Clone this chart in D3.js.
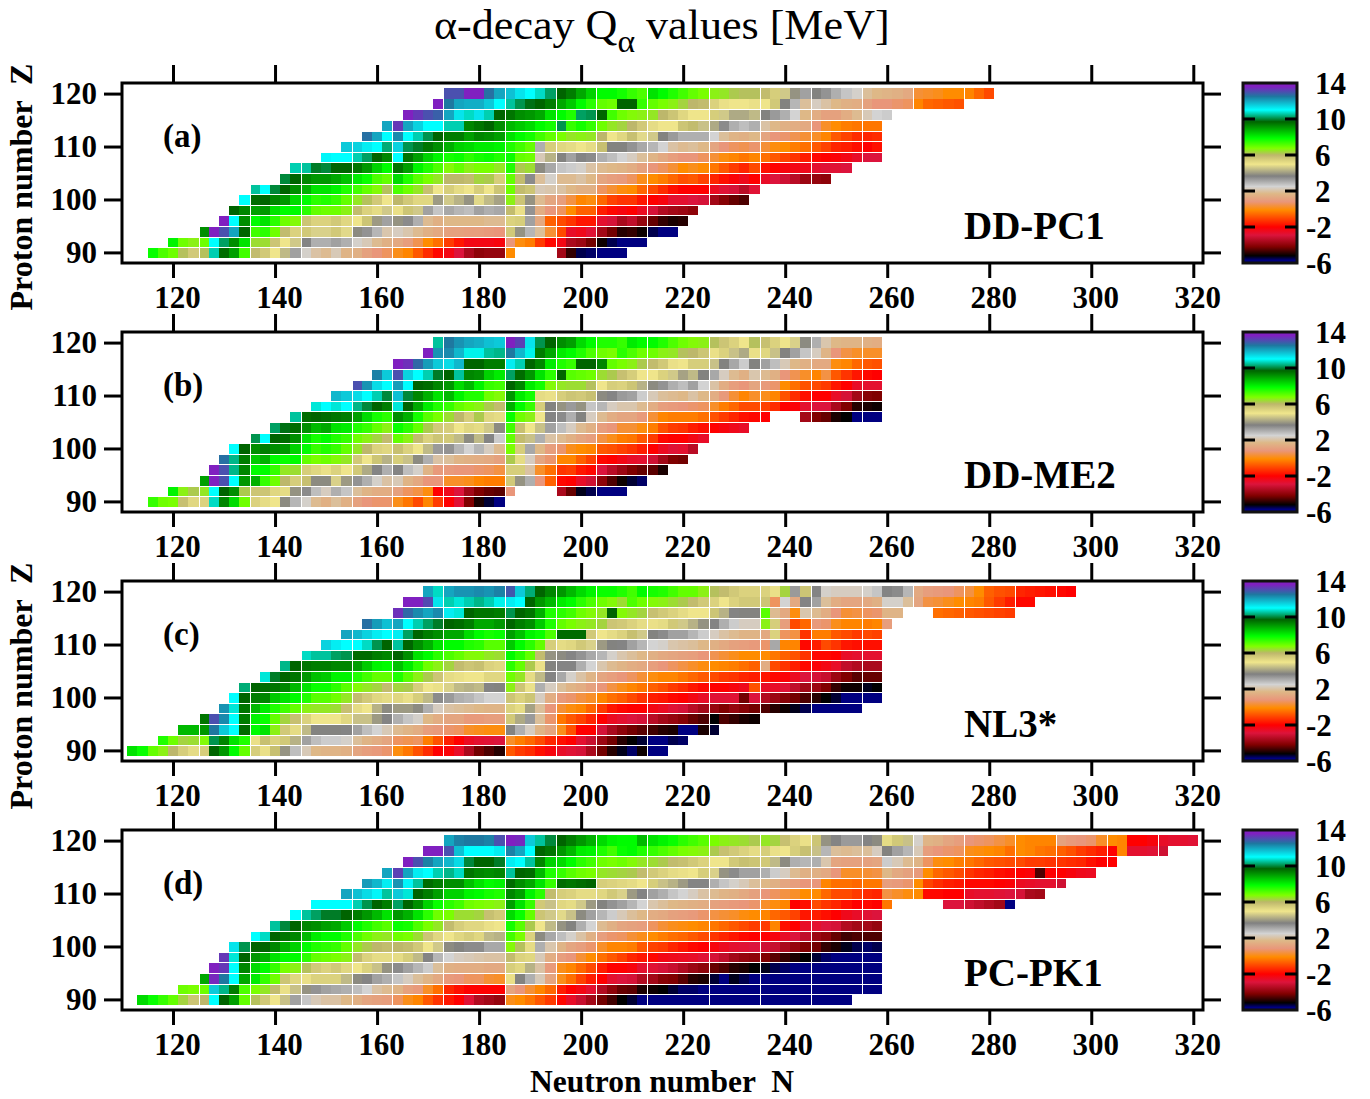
<!DOCTYPE html>
<html>
<head>
<meta charset="utf-8">
<script src="https://cdn.jsdelivr.net/npm/d3@7"></script>
<style>
body{margin:0;background:#fff}
text{font-family:"Liberation Serif",serif;fill:#000}
.lab{font-weight:bold;font-size:31px}
</style>
</head>
<body>
<svg width="1370" height="1099"></svg>
<script>
//Rows run top to bottom, Z=120 down to Z=90, each row is [first N, Q values for N, N+2, ...], null = no cell
const zValues = [120,118,116,114,112,110,108,106,104,102,100,98,96,94,92,90];
const nTicks = [120,140,160,180,200,220,240,260,280,300,320];
const zTicks = [90,100,110,120];
const barTicks = [14,10,6,2,-2,-6];
const panelNames = ['DD-PC1','DD-ME2','NL3*','PC-PK1'];
const panelTags = ['(a)','(b)','(c)','(d)'];

const rowsA = [
[174,[13,13,13.8,13.8,12.6,12,11.7,11.3,11,10.7,10.2,9.7,9.4,8.9,8.4,7.9,7.9,7.7,7.4,7.2,8.2,7.9,7.6,7.3,7,6.8,6.6,6.5,6.2,6.1,6.1,5.9,5.5,4.6,3.9,3.2,3.7,3.4,3,2.7,2.4,1.9,1.7,1.6,1.5,1.3,.3,.2,.1,-.1,-.1,-.2,-.6,-1]],
[172,[13.9,12.5,12,11.9,11.9,11.6,11,10.5,10.1,9.8,9.7,9.4,8.9,8.5,7.9,7.5,7,6.9,9.7,9.7,7.4,7,6.8,6.6,6.3,6,5.9,5.4,5.1,5,5,5.1,5,5.6,3.7,2.9,1.9,2.3,2,1.7,1.5,1.4,1.1,.8,.8,.7,.6,-.2,-.6,-.7,-.8,-.9]],
[166,[13.9,13.3,13,12.8,12,11.3,10.7,11.3,10.6,9.7,9.5,9.2,9.1,8.9,8.2,7.9,7.6,10.2,10.1,9.7,7.3,6.9,6.7,6.6,6.5,6,5.7,5.3,5,5,5.5,4.6,4.2,4.2,4.4,3.7,3.3,3,2.5,1.7,1.4,1.1,1.1,1.4,1.8,2.2,2.5,2.6]],
[162,[12,13.3,12,11.5,11,11,10.6,10.6,9.3,9.5,9.7,9.2,8.7,8.5,8.3,7.9,7.7,10.1,7.4,7.7,7.4,6.9,6.5,6.3,6,5.6,5.2,5,5,5.7,5.9,4.5,4.2,3.5,3,2.8,3,2,1.7,1.5,1.4,1.3,.8,.2,-.1,-.3,-.4,-.4,-.4]],
[158,[12.6,12,11,12.3,11,10.6,10.1,9.7,9.4,9.4,9,9.3,9.2,9,8.2,7.9,7.7,7.3,7,6.8,6.5,6.6,6.5,6,5,5.3,5.8,4.8,4.6,3.7,3.3,3,3,3,2.5,1.9,1.6,1.5,1.7,1.2,.8,.7,.5,.3,.2,-.2,-.8,-1.1,-1.4,-1.5,-1.4]],
[154,[11.6,11.5,11.2,11,10.3,11.5,10.1,9.9,9.5,9.2,8.8,8.4,8.3,8.1,8.1,8,7.6,7.3,7,3,5.5,5.3,5.2,5,5.2,5.8,3.7,3.7,3.4,3.1,2.9,2.5,2,1.8,1.9,1.7,1.2,.8,.6,.5,.7,.3,0,-.1,-.3,-.5,-.8,-1.1,-1.5,-1.6,-1.8,-2,-1.8]],
[150,[11.1,11,11,10.6,10.2,9.7,9.3,11,9.5,9,8.4,8,7.7,7.8,7.5,7.7,7.8,7.6,7.8,7,6.9,2.2,4.3,3.7,3.2,3.6,3.5,3,2.8,2.5,2.3,1.9,1.6,1.3,1,.8,.8,.6,.3,0,-.2,-.4,-.2,-.5,-.8,-1.1,-1.3,-1.6,-1.9,-2,-2.1,-2.3,-2.6,-2.9,-2.9]],
[144,[10.6,10.5,9.9,10,9.7,9.7,9.5,9.1,8.4,7.9,9.5,9,8,7.6,7.2,6.7,7,6.6,6.8,6.8,6.5,7.6,6.2,6.4,3.8,3.1,2.7,2.6,2.4,2,1.8,1.7,1.6,1.4,1.1,.8,.6,.3,-.1,.1,-.1,-.4,-.8,-1.2,-1.5,-1,-1.8,-2,-2.2,-2.3,-2.4,-2.7,-2.8,-2.8,-2.9]],
[142,[10,9.7,9.3,9.1,9.1,8.9,8.6,8.1,7.8,7.2,7,8.3,7.6,7.1,6.8,6.5,6,6,5.9,6.3,6.2,5.5,7,5.9,3.5,1.9,2.4,1.8,1.8,2,1.7,1.2,1,.9,.6,.1,-.1,-.3,-.6,-.9,-.8,-1.1,-1.5,-1.8,-2.1,-2.4,-2,-2.6,-2.9,-3.1,-3.4,-3.8,-3.9,-4]],
[136,[10.5,11,10,9.7,9.2,8.8,8.2,8.2,8,7.6,7.3,7,6.7,6.1,7.2,6.9,6.5,5.8,5,5.5,5.2,5,5.5,5,5.7,6.9,5.9,5.7,2.2,2.1,2,1.7,1.5,1.5,.6,.3,0,-.1,-.6,-1,-1.4,-1.8,-2,-2,-2,-2.5,-2.8,-3,-3.4,-2.8]],
[134,[11,9.6,9.7,9.3,9.1,8.3,7.9,7.5,7.6,7.4,7,6.5,6.1,5.6,5,6,5.6,5.3,5.3,4,4.6,4.3,3.9,4.8,4.4,4.1,6.6,5.7,3.9,1.8,1.2,1,.4,-.2,0,-.6,-1.1,-1.3,-1.3,-1.7,-2,-2.2,-2.7,-2.7,-2.9,-3,-3.7,-4.1,-4.4,-4.6]],
[132,[9.7,9.3,9,9.1,8.2,7.9,7.9,7.5,7,6.9,6.9,6.6,5.9,5.4,5.2,4.6,5.1,5.7,4.6,3.2,2.7,3.1,2.9,2.8,3.2,3,3.1,5.9,5.1,3.4,1.4,.8,.6,-.1,-.7,-.7,-1.6,-1.9,-2.2,-2,-2.5,-3,-3.5,-3.7,-3.8,-4]],
[130,[13.7,11,9.2,7.9,8.2,7.5,6.9,6.7,5.7,5.4,5.4,5.6,5.3,5,5.7,4,3.2,3.9,3.5,3,1.8,1.5,1.7,1.7,1.7,1.7,1.8,1.8,5.4,5.5,3.2,1.3,-.7,-1,-1.3,-1.7,-1.7,-2.7,-3,-3.6,-3.3,-3.9,-4.4,-4.8,-5,-4.9]],
[126,[9.2,13.8,13,12,9.7,7.3,7.5,6.9,5.9,5.4,5.6,4.7,4.7,5.6,4.8,3.8,3.4,2.9,2.1,2.3,2.1,1.8,1.5,1.3,1.1,1.1,1,1,.9,.8,5.6,3.9,2.9,1.9,.3,-1,-2.6,-2.4,-2.8,-3.7,-4.3,-4.9,-4.8,-5.1,-5.5,-5.8,-5.8]],
[120,[8,6.9,6.6,6.9,11,10.2,9.2,8.2,6.4,6.4,5.7,5,4.6,3.6,3,3,3.2,3,2.4,2.2,1.8,1.5,1.3,1,.5,-.1,-.5,-1.2,-1.7,-2.3,-2.3,-2.3,-2.2,.8,0,-.3,-1.2,-1.9,-2.3,-3.6,-3.8,-4.3,-5.1,-5.5,-5.7,-5.7,-5.8]],
[116,[7.8,7.2,6.9,6.1,5.6,6.1,10.6,9.6,9,7.3,5.9,5.6,5,4.4,3.2,2.4,2,1.8,2.2,1.6,1.5,1.1,.8,.6,.1,-.2,-.8,-1.4,-1.9,-2.3,-2.9,-3.6,-4,-3.9,-3.9,-.1,null,null,null,null,-3.7,-4.8,-5.5,-5.6,-6,-6,-6]]
];

const rowsB = [
[172,[10.5,12.5,12.2,12,11.9,11.7,11.6,13.9,13.2,11.3,10.1,9.7,9.2,9,8.3,7.9,7.6,7.6,7.4,8.1,7.9,7.9,7.6,7.2,6.9,6.7,6.6,6.1,5.7,5.4,5,6.1,5.8,5.4,5,4.7,3.8,3,2.1,1.7,1.6,1.6,1.5,1.4]],
[170,[13.9,12.2,12.3,11.8,10.9,10.9,10.5,10.4,12.5,11.8,10.9,9.4,8.9,8.1,7.9,7.6,7.2,6.9,6.8,7.5,7.2,6.9,6.9,6.6,6.5,6.1,6,5.7,5.1,5.4,4.5,4.2,5.1,5.3,4.5,3.7,3.2,2.7,2.3,1.6,.8,.4,.2,.2,.2]],
[164,[14,13.4,12.7,12.1,11.6,11.4,11.8,9.7,9.7,9.4,9.4,11.2,10.6,9.7,9.3,8.1,7.6,7.4,9.7,9.7,9.3,7,6.8,6.6,6.2,5.9,5.6,5.1,5,5.5,5.5,4.5,3.7,3.1,2.6,3.7,3.2,2.8,2.2,1.7,1.5,1.3,1.3,0,-.2,-.6,-.8,-.9]],
[160,[12.4,11.6,13,11.5,11,10.6,9.9,9.7,10.5,9.3,9.2,8.4,8.1,10.2,9.6,9.1,8.2,7.5,9.7,7.1,7,6.9,6.4,6.2,5.8,5.5,5,5,5.4,4.6,4.1,4.4,3.7,3.1,2.3,1.8,1.5,2.1,1.8,1.5,.8,.5,.2,-.2,.4,-.8,-1.3,-1.7,-1.9,-2]],
[156,[13,12.2,11.4,11,12.1,11,9.7,9.6,9.3,9.1,8.3,8.7,8,7.4,7.3,9.7,9.3,8.1,7.7,6.7,6.5,6.4,6.4,6.1,5,5.5,5.4,5.7,4.3,3.8,3.4,3,2.8,3.2,2.5,2,1.4,1,.8,1.2,.9,.7,-.1,-.5,-.9,-1,-1.2,-1.7,-2,-2.6,-2.7,-2.7]],
[152,[11.8,11.6,11.4,11,10.6,10,11.7,10,9.3,8.8,8.2,8.7,8,7.6,7.6,6.9,6.7,9.1,8.1,7.7,5.2,5.1,5.5,5.7,5.6,5.8,3.8,3.6,3.3,3.2,2.6,2.2,1.9,1.8,1.7,2,1.7,1.4,.9,.3,-.2,.2,.1,-.2,-.9,-1.4,-1.8,-2,-2,-2.6,-3,-3.7,-4.1,-4.2]],
[148,[10.8,11,10.8,11,10.4,10,9.7,9.4,10.8,9.7,8.9,8.1,7.6,7.4,7,6.8,6.6,6.2,5.9,8.8,7.9,7.4,5.5,3.7,3.9,3.3,3.9,2.7,2.9,2.3,2.1,2.1,1.8,1.4,1,.9,.8,.7,.6,.2,-.3,-.6,-1,-1,-1.1,-1.4,-2,-2.1,-2.7,-2.9,-2.9,-3.6,-4.2,-4.9,-5,-5.1]],
[144,[10.5,9.6,9.7,9.6,9.5,9.4,9,8.3,7.7,7.5,9.2,8.8,7.7,7.1,6.8,6.4,6,5.5,6.2,5.3,5.2,7.8,6.9,6.6,5,3.6,3.5,3,3.7,2.3,1.8,1.4,1.2,1.2,.9,.3,-.2,-.3,-.3,-.3,-.5,-.9,-1.2,-1.5,-1.8,-1.9,-2,null,null,null,-3.7,-4.2,-4.4,-5,-5.2,-5.7,-5.7,-5.9]],
[140,[10.2,9.8,9.6,9.2,8.7,8.9,8.2,8.1,7.6,7.4,7,6.6,7.8,7.5,7,6.2,5.6,5.5,5,5.3,5.2,4.6,3.8,7.3,5.8,5,4.5,3.2,2.8,2.3,1.8,1.5,1,.8,.3,.3,0,-.3,-.9,-1.2,-1.3,-1.6,-1.8,-2,-2.2,-2.4,-2.6]],
[136,[10.1,11,9.7,9.6,9.2,8.2,7.7,7.9,7.6,7.4,6.9,6.6,6.3,5.9,7,6.6,5.9,5.4,5.7,5.6,4.4,3.8,4.4,3.6,2.6,7,5.9,4.5,3,2,1.8,1.5,1.2,1,.4,.1,-.3,-.4,-.8,-1.2,-1.9,-2,-2,-2.3,-2.6]],
[132,[11,9.7,9.2,9.4,9.2,9.1,8.4,7.9,7.4,7.6,7.4,7,6.5,6,5.4,5.3,5.8,5.4,5,4.4,3.3,3.4,2.9,2.5,2.9,2.3,1.8,6.8,5.5,3.1,1.7,1,.7,.1,-.1,-.2,-.8,-.9,-1.1,-1.3,-1.6,-2,-2.5,-2.8,-2.7,-3.4]],
[130,[12.6,10.4,9.4,8.5,8.8,7.9,7.8,7.9,7,6.8,6.9,6.7,6.5,5.6,5,5.7,4.3,5.5,4.5,3.8,3,2,1.9,1.6,1.5,1.4,1.3,1.1,6.2,5.2,2.3,1.2,.7,-.2,-.2,-.7,-1.1,-1.9,-2,-2.3,-2.6,-2.7,-3.1,-3.7,-4.2,-4.3]],
[128,[13.9,13,10.4,9.3,7.9,7.9,7.4,6.5,6.4,5.5,5.3,5.1,5.4,5,5.6,4.2,3.6,3,3.6,2.8,2.4,1.6,.9,.9,.8,.8,.7,.6,.4,5.5,5.5,2,.2,-.5,-1.3,-1.2,-1.7,-1.9,-2.9,-3.4,-3.8,-4.2,-4.4,-4.5,-5]],
[126,[9,13.9,13,11,9.1,8.8,7.4,6.9,6,5.5,5.8,3.8,3.8,4.7,4,3.4,3,2.4,2,2.2,1.6,1.3,.8,.8,.2,.2,.1,-.2,-.3,-.3,5.6,3.9,3,.8,-.7,-1.9,-2,-2.6,-3.1,-4,-4.6,-5.1,-5.4,-5.6]],
[120,[8,6.6,6.2,6.5,11,9.7,9.2,6.2,5.7,5.7,5.3,5.2,3.9,3.5,2.8,2.3,3,2.7,1.9,1.6,1.4,1.4,1.1,.6,.4,0,-2,-2.4,-2.9,-3.7,-4.2,-4.4,-4.5,.8,null,null,null,null,-3.6,-4.4,-5.3,-5.5,-5.8,-5.8,-5.9]],
[116,[7.4,6.9,6.8,5.8,5.3,5.4,10.7,9.3,8.3,6.9,5.4,5.2,5,3.8,2.9,2.4,1.8,1.5,1.9,1.5,1.1,.8,.7,.7,.1,-.4,-1,-.2,-1.2,-2,-2.8,-4.2,-5,-5.4,-5.7]]
];

const rowsC = [
[170,[12,10.7,12,12.2,12.2,12.3,12.2,12.4,12.9,11.6,10.3,9.7,9.3,9.1,8.7,8.3,8,7.8,7.8,7.6,7.3,7.9,7.7,7.6,7.3,7,7,6.6,6.1,5.9,5.6,5.4,5.4,5.4,5.1,6.3,3.3,5.7,3.6,2.4,2.3,2.3,2.3,2.4,2.7,3.6,3.5,2.9,1.3,1,.9,.8,.6,.4,-.1,-.7,-.9,-1,-1.5,-1.6,-1.7,-1.8,-1.9,-2]],
[166,[13.9,13.8,13.1,11.3,10.6,10.8,10.6,10.4,10.6,10.9,11.2,11,9.7,9.1,8.7,8.1,7.9,7.5,7.2,6.9,6.7,6.4,7.2,6.9,6.7,6.6,6.4,6.2,5.9,5.6,5.4,5,5.4,5.6,5.6,5.7,.6,2.5,1.3,3.6,3.2,1.9,1.4,1.2,1.2,1.3,1.5,2.4,2.4,1.9,1.2,.4,.3,.1,-.1,-.2,-.3,-.8,-1.2,-1.6,-1.9,-1.9]],
[164,[13.4,12.7,12.3,12,12.3,11.2,10.8,9.7,9.5,9.5,9.4,10.1,9.7,9.5,8.8,7.6,7.5,7.3,6.9,6.7,6.5,9.7,6.7,6.5,6.3,5.8,5.6,5.4,5.2,5,5,5.7,4.3,3.6,3.7,3.7,7.1,1.8,1.3,0,2.1,1.8,1.4,.8,.3,.4,.6,.7,1.6,1.6,null,null,null,-.5,-.6,-.7,-.8,-.9,-1,-1.1,-1.2]],
[158,[12.6,12.1,11.7,12,11,10.6,10.2,9.9,9.7,9.6,9.4,8.9,8.9,9.1,9.7,9.4,9.2,8.5,7.6,7,6.8,6.6,6.5,6.3,5.7,5.6,5.4,5.2,5.1,5.2,5.6,4.6,4.3,3.9,3.6,3,2.6,2.3,2.3,6.6,5.5,1,-1,-.6,.9,.7,.1,-.2,-.2,-.3,-.2,1]],
[154,[12,11.8,11.5,11.2,11,11.2,10.2,9.7,9.4,9.2,8.9,8.9,8.3,7.9,7.7,7.8,9,8.6,8,7.8,7.2,9.6,9.6,9.6,5.6,5,5.2,5.4,5.8,4.6,3.7,3.5,3.2,3.2,2.9,2.6,2.3,2,1.8,1.6,1.6,1.3,5.4,.6,.4,-1.3,-.3,-.3,-.8,-1,-1.2,-1,-1.1]],
[150,[11.5,11.2,11,11,10.7,10.1,9.7,10.5,9.7,9.2,8.8,8.2,7.9,7.9,7.6,7.5,7.1,7.1,8.5,7.9,7.5,7,5.5,5.2,5.3,5.6,4.7,4,3.7,3.6,3.2,2.9,2.5,2.4,2.1,2,1.9,1.7,1.5,1.3,1.1,1,.9,.7,3.1,-.2,-.2,-1.9,-1.6,-1,-1.3,-1.7,-1.8,-1.8,-1.8]],
[146,[10.7,10.5,10.5,10.2,10.1,9.6,9.6,9.4,9.3,9.7,9.2,8.2,7.9,7.5,7.2,7,6.7,6.7,6.5,6.4,7.9,7.5,7,5.9,3.9,3.8,3.6,3.4,3.1,2.9,2.4,2.1,1.9,1.7,1.5,1.3,1.2,1.1,1,.8,.5,.3,.1,-.1,-.1,-.1,-.4,-.7,-.9,-1.3,-1.9,-1.9,-2,-2.6,-2.7,-2.7,-2.7]],
[142,[10.4,9.7,9.5,9.4,9.4,9.3,9.3,9,8.5,8,7.9,8.6,8.1,7.5,6.9,6.6,6.3,5.9,5.7,5.8,5.4,5.3,7.5,7,6.2,5.1,3.7,3.6,3.6,3,2.5,2.1,1.8,1.6,1.4,1.3,1,.8,.6,.4,.2,0,-.1,-.2,-.3,-.5,-.7,1.4,-1,-1.3,-1.6,-1.9,-2.1,-2.3,-2.6,-3.3,-3.5,-3.6,-3.6]],
[138,[10.8,9.9,9.7,9.5,9.1,8.6,8.5,8,8,7.6,7.3,7,7,7.6,7.1,6.6,6.2,5.7,5.2,5.1,5,5,5.3,5.3,6.9,6.5,5.2,4.4,3.6,3.1,2.4,2,1.6,1.2,1,.8,.6,.3,0,-.2,-.2,-.4,-.6,-.8,-1,-1.2,-1.3,-1.5,-1.6,-1.7,-1.9,-2.1,-2.5,-2.9,-3,-3.2,-3.8,-4.2,-4.5,-4.4,-4.4]],
[134,[10.3,9.7,9.6,9.5,9.3,8.7,8.2,7.8,7.8,7.5,7.1,6.7,6.5,6.3,5.9,6.3,6.2,5.5,5,5.1,4.7,4.4,4.3,4.4,3.6,3.7,6.6,5.7,4.9,3,2.3,1.9,1.6,1.4,1.1,.8,.4,.1,-.2,-.4,-.7,-.9,-1.2,-1.4,-1.7,-1.9,-2,-2,-2.2,-2.4,-.9,-2.6,-2.6,-2.8,-3.3,-3.7,-3.8,-4.2,-4.8,-5.1,-5.1,-5.3,-5.2]],
[132,[11,9.7,9.4,9.3,8.5,8.2,7.9,7.6,7.1,7.1,6.9,6.5,5.9,5.6,5.3,5.2,5.3,5.1,5.5,4.4,3.5,3.3,3,2.9,2.7,2.5,2.5,5.7,5.4,5.7,2.3,1.4,.9,.7,.4,.2,-.2,-.5,-.7,-1,-1.3,-1.6,-1.7,-1.9,-2,-2.3,-2.6,-2.8,-2.8,-2.8,-4.3,-2.9,-3.5,-3.8,-4.1,-4.3,-4.6,-4.9,-5.2,-5.4,-5.7,-5.8,-5.9,-5.9]],
[130,[12.2,10.8,9.5,8.7,8.1,7.6,7.3,7,6.6,6.5,6.5,6.4,5.8,5.2,5,4.3,3.8,4,4,3.8,3,2.3,2,1.9,1.8,1.7,1.6,1.6,5.4,5.2,4.1,1.9,.8,.3,0,-.2,-.6,-1.2,-1.7,-1.9,-2,-2,-2.3,-2.5,-2.8,-3,-3.4,-3.7,-3.9,-4.2,-3.9,-4.1,-4.3,-4.6,-4.9,-5.1,-5.3,-5.5,-5.7,-5.8,-5.9,-6,-6]],
[126,[9.5,13,12.3,11,9.4,8,7.8,7,6.3,5.8,5.4,5,5,5,5.3,4.5,4.5,4,3.6,3,2.7,2.4,1.7,1.4,1.2,1.2,.9,.9,1,1,5.6,4.2,3.3,1.9,.7,-.4,-.8,-1.1,-1.5,-2,-2.5,-2.7,-2.9,-3,-3.4,-3.7,-3.9,-4.1,-4.4,-4.6,-5.2,-4.6,-4.8,-5,-5.1]],
[122,[8.7,8.7,9.1,12.5,11.6,11,9.6,7.9,8.2,6.6,5.6,5.2,4.4,3.7,3.7,3.7,3.6,3.2,2.8,2.5,2.2,1.8,1.6,1.4,1,.9,.7,.6,.2,.1,0,0,3.7,3,2.3,1.6,1.2,.1,-.9,-2,-2,-3,-3.6,-4,-4.3,-4.5,-4.7,-4.9,-5,-5.8,-5.7,-5,-5.4]],
[118,[7.6,6.9,6.3,6.4,6.7,10.1,9.3,8.2,7.6,5.1,5.8,5.4,5.6,4.3,3.2,2.8,2.6,2.6,2.4,1.9,1.6,1.4,1.2,.6,.5,.6,-.3,-.9,-1.6,-2,-2.5,-2.7,-2.8,-2.9,.2,-.3,-.6,-1,-1.5,-1.8,-2,-2.7,-3.2,-3.8,-4.3,-4.9,-5.2,-5.4,-6,-6,-5.5,-5.6]],
[112,[8.2,7.8,7,6.6,6,5.5,5.2,5.5,9.7,9.1,7.9,7,5.5,5.1,5.8,3.9,2.8,2.2,1.7,1.6,1.6,1.5,1.2,1,.9,.7,0,-.4,-.9,-1.4,-2,-2.1,-2.6,-3.6,-4.3,-4.6,-4.9,-.8,-1.2,-1.4,-1.8,-2.2,-2.6,-2.8,-3,-3.6,-4.3,-4.9,-5.3,-5.6,-5.1,-5.7,-5.9]]
];

const rowsD = [
[174,[12,12.4,12.5,12.5,12.4,13,13.9,13.5,11.6,10.5,10,9.7,9.4,9.1,8.8,8.3,8,7.9,7.9,8.7,8.2,8,7.8,7.5,7.3,7.1,6.8,6.6,6.5,6.4,6.2,6.5,6.3,5.8,5.4,5.1,5.7,3.9,3.6,3.3,3.3,3.6,3.8,5.2,5.6,4.5,2.4,1.6,1.5,1.2,1,.8,.7,.6,.4,.2,-.1,-.2,-.2,-.2,1.1,.9,.8,.7,.2,-.1,-.2,-2,-2,-2.2,-2.6,-2.7,-2.7,-2.8]],
[170,[13.9,13.6,13,11.7,11,11,11,11.2,12.4,12,11,9.7,9.5,9.1,8.7,8.1,8,7.6,7.3,7.8,7.9,7.6,7.4,7.2,7,6.8,6.7,6.6,6.2,5.8,5.6,5.4,5.2,5.5,5.1,5,5.5,5.8,4.5,2.9,1.9,1.8,1.9,1.9,2.3,3.7,3.2,2.9,2.2,1,.8,.7,.6,.1,0,-.1,-.2,-.5,-.1,-.2,-.4,-.5,-.7,-.9,-1.2,-1.4,-1.6,-2,-.2,-2.7,-2.7,-2.8,-3.1]],
[166,[13.9,13,12.4,12,11.8,11.4,10,9.7,9.7,9.9,11.2,11,10.5,9.3,8.4,8.3,7.9,7.5,7.3,6.9,6.8,6.9,6.7,6.5,6.4,6.2,5.9,5.8,5.6,5.4,5,5,5.6,5.8,5.7,5.6,4.4,3.8,3,2.9,3,2.1,1.2,1.1,1.1,1.1,1.2,2.6,2.2,1.8,1.6,.6,0,-.1,-.3,-.4,-.6,-.8,-.9,-1,-1,-1.2,-1.2,-1.3,-1.3,-1.4,-1.5,-1.8,-2,-2]],
[162,[12,13.2,12,11.2,11,10.6,10.4,10.7,9.5,9.3,9.2,9.3,10.5,9.7,9.6,8.7,7.6,7.4,7.1,6.9,6.8,6.5,6.4,6.3,6.2,5.9,5.6,5.4,5.2,5.1,5,5.5,4.7,3.9,3.5,3.2,3.2,3,2.6,2.3,1.8,1.5,1.5,1.3,.8,.2,.2,.3,.4,1.7,1.3,1.1,.9,-.1,-.6,-.8,-1,-1.3,-1.5,-1.6,-1.8,-1.9,-2,-2.1,-4.6,-2,-2,-2.2,-2.4,-2.5]],
[158,[12.1,11.8,11.2,12.2,11.1,10.5,9.6,9.4,9.2,9.2,8.6,8.2,7.9,8,9.6,9.2,8.9,8.2,7.4,9.6,9.5,9.6,9.7,5.5,5.4,5.3,5.2,5,5.5,4.5,4.3,4,3.6,3.6,3,2.7,2.4,2.2,1.9,1.7,1.5,1.2,1,.8,.8,-.2,-.5,-.5,-.6,-.4,-.4,1,.9,.7,-.1,-1.1,-1.4,-1.6,-1.7,-1.9,-1.9,-1.9,-2,-2.1,-2.5,-2.6,-2.7,-2.7,-3.1]],
[154,[12,11.7,11.4,11.1,10.5,11.6,10.8,9.7,9.4,9,8.4,8.4,8,7.9,7.7,7.6,9.3,9,8,7.5,5.9,5.5,5.4,5.2,5.2,5.3,5.6,4.7,4,3.6,3.2,3,2.7,2.5,2.3,2,1.8,1.6,1.5,1.3,1.1,.8,.6,.4,.2,-.1,-.1,-.6,-1,-1,-1.2,-1.4,-1.5,.4,.2,0,-.1,-1.9,-1.9,-2,-2,-2.6,-2.7,-2.7,-2.8,-2.9,-3,-3.6,-3.7]],
[148,[11,11,11,11,10.6,10.1,9.7,9.4,10.2,9.7,9.2,8.4,7.8,7.5,7.3,6.9,6.8,6.7,6.6,9,8.2,7.4,5.6,4.5,5.3,5.2,4.6,4,3.7,3.4,3.2,2.9,2.5,2.1,1.9,1.7,1.6,1.5,1.4,1.1,1,.9,.8,.7,.2,0,-.2,-2,-1.8,-1,-1.3,-1.5,-1.8,-2,-1.9,-2,-.4,null,null,null,null,null,-2.9,-2.9,-3.1,-3.3,-3.5,-3.7,-5.9]],
[144,[11,10.5,10.2,9.9,9.9,9.7,9.4,9.1,8.7,8.2,9.1,8.8,8.2,7.5,6.9,6.8,6.4,6.4,6.3,5.8,5.6,8.3,7.8,7,5.7,4.6,4.8,4.5,3.8,3.2,2.9,2.6,2.2,1.9,1.7,1.4,1.3,1.1,1,.9,.7,.4,.3,.2,0,-.1,-.2,-.6,-.8,-1.1,-1.7,-1.6,-1.8,-2,-2.4,-2.6,-2.8,-2.9]],
[140,[10.5,10,9.7,9.3,9.2,9,8.9,8.5,7.9,7.6,7.3,7.1,7.8,7.7,7.2,6.8,6.5,5.9,5.5,5.3,5.3,5.1,5,7.7,7.1,6.2,5,4.4,3.9,3.7,3,2.5,1.8,1.5,1.2,1.1,1,.6,.3,.1,0,-.1,-.2,-.4,-.6,-.8,-1,-1.2,-1.2,-.2,-1.8,-2,-2.6,-2.7,-2.9,-3,-3.5,-3.7,-3.7,-3.9]],
[136,[11,10.7,9.7,9.5,9.3,8.7,8.1,7.9,7.9,7.6,7.2,6.9,6.6,6.5,6.9,6.8,6.4,5.7,5.3,5,5.3,5.5,5.3,4.4,4.3,7.3,6.8,5.4,3.8,3.1,2.8,2.4,2,1.5,1,.7,.6,.3,.1,-.1,-.3,-.5,-.6,-.8,-1,-1.3,-1.5,-1.7,-1.9,-2,-2,-2.2,-2.6,-2.9,-3.3,-3.8,-4,-4.4,-4.7,-4.6,-4.6,-4.6]],
[132,[11.3,10.1,9.7,9.7,9.3,8.8,8.4,7.9,7.6,7.5,7.4,7,6.5,6.2,6,5.9,6,5.9,5.6,5,4.6,3.8,3.7,3.5,3.5,3.1,3.1,6.7,6.1,5.2,3,2.1,1.6,1.2,1,.7,.2,-.2,-.2,-.3,-.8,-1.1,-1.2,-1.5,-1.7,-1.9,-2,-2.2,-2.5,-2.7,-2.8,-2.9,-3.1,-3.2,-3.6,-3.9,-4.2,-4.3,-4.8,-5,-5.3,-5.5,-5.6,-5.5]],
[130,[13.3,10.8,9.7,9.1,8.8,8.2,7.9,7.9,7.5,7,6.9,6.8,6.6,5.9,5.4,5.2,5.2,5.2,5.5,4.4,3.6,2.9,2.5,2.3,2.2,2.1,2,2,5.9,5.4,5.3,2.2,1.4,1,.8,.3,-.1,-.5,-.8,-1.1,-1.5,-1.7,-1.9,-2.3,-2.4,-2.5,-2.6,-2.8,-3,-3.3,-3.7,-3.9,-4,-4.2,-4.5,-4.8,-5,-5.2,-5.4,-5.6,-5.7,-5.8,-5.8,-6,-6]],
[128,[13.8,13.3,11,9.3,8.3,7.9,7.4,6.8,6.6,6.1,5.6,5.4,5.6,5.3,5,5.4,4.5,3.9,3.5,3.2,2.9,2.6,1.9,1.5,1.4,1.4,1.4,1.3,1.3,5.5,5.3,4.3,2,.9,.1,-.2,-.6,-1,-1.6,-2,-2,-2.2,-2.7,-2.8,-3,-3.2,-3.5,-3.8,-4,-4.4,-4.6,-4.9,-5,-5.2,-5.3,-5.5,-5.6,-5.7,-5.8,-5.8,-5.9,-6,-6,-6,-6,-6]],
[126,[8.9,13.5,12.5,11,8.9,8.1,7.4,6.9,5.7,5.3,5.1,5.4,5.4,5.4,4.4,3.8,3.6,3.2,3,2.7,2.3,1.9,1.6,1.3,.9,.8,.6,.6,.3,.2,5.1,3.7,3,2.2,1.2,.1,-.5,-1.1,-1.6,-2,-2.7,-2.9,-3,-3.5,-3.7,-4.1,-4.2,-4.5,-4.9,-5,-5.4,-5.8,-5.3,-5.5,-5.8,-5.9,-6,-6,-6,-6,-6,-6,-6,-6,-6,-6,-6]],
[122,[6.9,6.8,6.9,11.6,10.4,9.4,7.2,6.8,6.5,5.9,5.1,4.5,3.9,3.4,3.2,3.1,3,2.8,2.5,2,1.8,1.6,1.1,.9,.2,-.5,-1.5,-1.8,-2,-2,-2,-2,1.2,.8,.3,-.2,-.6,-1.6,-2,-2.3,-2.7,-3.5,-4,-4.4,-4.5,-5,-5.1,-5.2,-5.4,-5.6,-5.6,-5.7,-5.8,-5.9,-5.9,-6,-6,-6,-6,-6,-6,-6,-6,-6,-6,-6,-6,-6,-6]],
[114,[8.3,7.8,7.4,7,6.3,5.7,6,11,9.7,9,7,6.1,5.6,5,4.5,3.2,2.7,2.2,2,2,1.7,1.5,1.2,1.1,1,.6,.1,-.2,-.8,-1.3,-1.7,-2,-2.8,-3.5,-3.7,-3.9,.1,-.1,-.4,-.8,-1.2,-1.9,-2.6,-3.2,-3.7,-4.3,-4.7,-5.2,-5.4,-5.7,-5.8,-5.8,-5.9,-5.9,-5.9,-6,-6,-6,-6,-6,-6,-6,-6,-6,-6,-6,-6,-6,-6,-6]]
];
const panels = [rowsA,rowsB,rowsC,rowsD];

//white seams left in the original raster, at these N and Z boundaries
const seamN = [125,135,145,155,163,173,185,195,203,213,225,235,245,255,265,275,285,293,303,313];
const seamZ = [91,93,95,97,99,101,103,105,107,109,111,113,115,117];

//colour map
const mapValues = [-6,-5.7,-5.2,-4.2,-2.9,-2,-.1,.8,1.7,2.5,3.66,4.97,6,6.75,7.87,9.7,11,12.5,13.6,14];
const mapColors = ['#000080','#000080','#000000','#800000','#dc143c','#ff0000','#ff8c00','#e9967a','#deb887','#d3d3d3','#808080','#f0e68c','#bdb76b','#7fff00','#00ff00','#006400','#00ffff','#1e78a0','#8020c0','#8020c0'];
const color = d3.scaleLinear().domain(mapValues).range(mapColors).clamp(true);

const svg = d3.select('svg');
const x = d3.scaleLinear().domain([110,322]).range([122,1203.5]);
const panelStep = 249;

//gradient for the colour bars, built from the same map
const grad = svg.append('defs').append('linearGradient')
    .attr('id','barGrad').attr('x1',0).attr('x2',0).attr('y1',1).attr('y2',0);
grad.selectAll('stop').data(mapValues).enter().append('stop')
    .attr('offset',d => (d+6)/20)
    .attr('stop-color',d => color(d));

panels.forEach((rows,i) => {
    const top = 83 + i*panelStep;
    const y = d3.scaleLinear().domain([88,122]).range([top+180,top]);
    const g = svg.append('g');

    //flatten rows into cells
    const cells = [];
    rows.forEach((row,r) => row[1].forEach((q,k) => {
        if (q !== null) cells.push({z:zValues[r],n:row[0]+2*k,q:q});
    }));

    g.selectAll('rect.cell').data(cells).enter()
        .append('rect')
        .attr('class','cell')
        .attr('x',d => Math.round(x(d.n-1)))
        .attr('width',d => Math.round(x(d.n+1))-Math.round(x(d.n-1)))
        .attr('y',d => Math.round(y(d.z+1)))
        .attr('height',d => Math.round(y(d.z-1))-Math.round(y(d.z+1)))
        .attr('fill',d => color(d.q))
        .attr('shape-rendering','crispEdges');

    g.selectAll('line.sn').data(seamN).enter().append('line')
        .attr('x1',d => Math.round(x(d))+.5).attr('x2',d => Math.round(x(d))+.5)
        .attr('y1',top+3).attr('y2',top+177)
        .attr('stroke','#fff');
    g.selectAll('line.sz').data(seamZ).enter().append('line')
        .attr('y1',d => Math.round(y(d))+.5).attr('y2',d => Math.round(y(d))+.5)
        .attr('x1',124).attr('x2',1201)
        .attr('stroke','#fff');

    g.append('rect')
        .attr('x',122).attr('y',top).attr('width',1081).attr('height',180)
        .attr('fill','none').attr('stroke','#000').attr('stroke-width',3);

    //axes on all four sides, labels only bottom and left
    const axes = [
        d3.axisBottom(x).tickValues(nTicks).tickSize(15).tickPadding(8).tickFormat(d3.format('d')),
        d3.axisTop(x).tickValues(nTicks).tickSize(18).tickFormat(''),
        d3.axisLeft(y).tickValues(zTicks).tickSize(18).tickPadding(7).tickFormat(d3.format('d')),
        d3.axisRight(y).tickValues(zTicks).tickSize(18).tickFormat('')
    ];
    const shifts = [`translate(0,${top+180})`,`translate(0,${top})`,'translate(122,0)','translate(1203,0)'];
    axes.forEach((axis,a) => {
        const ag = g.append('g').attr('transform',shifts[a]).call(axis);
        ag.select('.domain').remove();
        ag.selectAll('line').attr('stroke','#000').attr('stroke-width',3);
        ag.selectAll('text').attr('class','lab');
        if (a === 0) ag.selectAll('text').attr('dx',4);
    });

    g.append('text').attr('class','lab').attr('x',163).attr('y',top+64)
        .style('font-size','33px').text(panelTags[i]);
    g.append('text').attr('class','lab').attr('x',964).attr('y',top+156)
        .style('font-size','39px').text(panelNames[i]);

    //colour bar
    const bar = d3.scaleLinear().domain([14,-6]).range([top,top+180]);
    const barG = svg.append('g');
    barG.append('rect').attr('x',1243).attr('y',top).attr('width',54).attr('height',180)
        .attr('fill','url(#barGrad)').attr('stroke','#111').attr('stroke-width',3);
    barG.selectAll('line.l').data(barTicks.slice(1,5)).enter().append('line')
        .attr('x1',1243).attr('x2',1255).attr('y1',d => bar(d)).attr('y2',d => bar(d))
        .attr('stroke','#000').attr('stroke-width',3);
    barG.selectAll('line.r').data(barTicks.slice(1,5)).enter().append('line')
        .attr('x1',1285).attr('x2',1297).attr('y1',d => bar(d)).attr('y2',d => bar(d))
        .attr('stroke','#000').attr('stroke-width',3);
    barG.selectAll('text').data(barTicks).enter().append('text')
        .attr('class','lab')
        .attr('x',d => d < 0 ? 1306 : 1315)
        .attr('y',d => bar(d)+11)
        .text(d => d);
});

//title, stretched a little like the original
const title = svg.append('text').attr('transform','translate(434,39) scale(1.05,1)').style('font-size','42px');
title.append('tspan').text('α-decay Q');
title.append('tspan').attr('dy',13).style('font-size','32px').text('α');
title.append('tspan').attr('dy',-13).text(' values [MeV]');

//axis titles
svg.append('text').attr('class','lab').attr('x',662).attr('y',1092)
    .attr('text-anchor','middle').style('white-space','pre').style('font-size','31.5px').text('Neutron number  N');
[187,686].forEach(c => {
    svg.append('text').attr('class','lab')
        .attr('transform',`translate(32,${c}) rotate(-90)`)
        .attr('text-anchor','middle').style('white-space','pre').style('font-size','32px').text('Proton number  Z');
});
</script>
</body>
</html>
